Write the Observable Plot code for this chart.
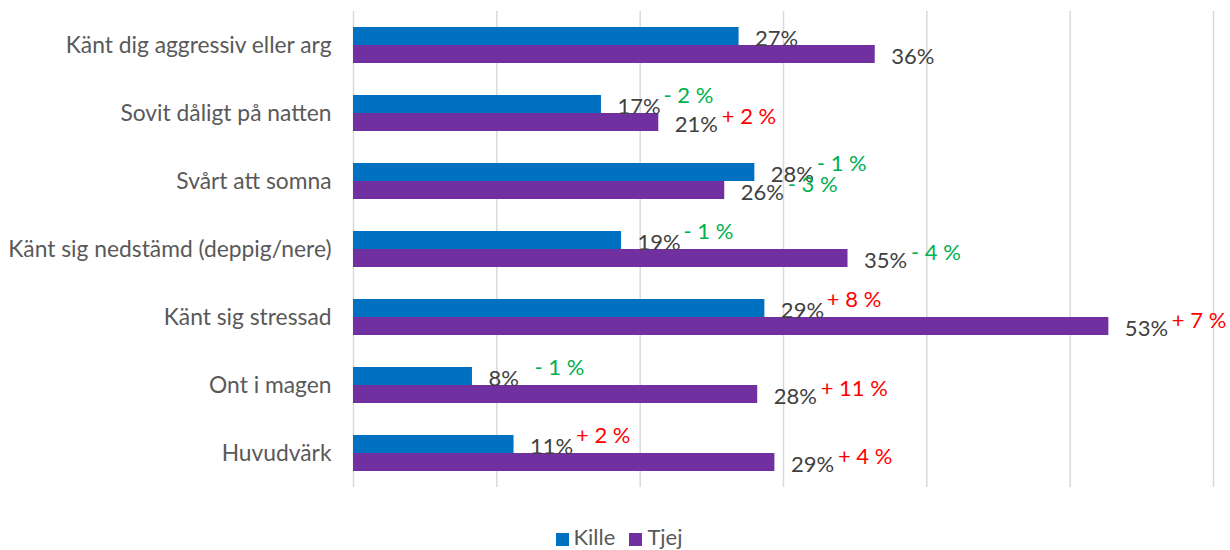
<!DOCTYPE html>
<html>
<head>
<meta charset="utf-8">
<script src="https://cdn.jsdelivr.net/npm/d3@7"></script>
<script src="https://cdn.jsdelivr.net/npm/@observablehq/plot@0.6"></script>
<style>
  html, body { margin: 0; padding: 0; background: #fff; overflow: hidden; }
  #chart svg { display: block; }
  #legend { font-family: Lato, sans-serif; font-size: 22px; color: #595959; text-align: center; height: 26px; line-height: 26px; padding-top: 19px; padding-left: 22px; }
  #legend span.sw { display: inline-block; width: 13px; height: 13px; margin-right: 5px; vertical-align: -1px; }
  #legend span.it { margin-right: 14px; }
</style>
</head>
<body>
<div id="chart"></div>
<div id="legend"></div>
<script>
const categories = [
  "Känt dig aggressiv eller arg",
  "Sovit dåligt på natten",
  "Svårt att somna",
  "Känt sig nedstämd (deppig/nere)",
  "Känt sig stressad",
  "Ont i magen",
  "Huvudvärk"
];
const kille = [26.9, 17.3, 28.0, 18.7, 28.7, 8.3, 11.2];
const tjej  = [36.4, 21.3, 25.9, 34.5, 52.7, 28.2, 29.4];
const killeLabels = ["27%", "17%", "28%", "19%", "29%", "8%", "11%"];
const tjejLabels  = ["36%", "21%", "26%", "35%", "53%", "28%", "29%"];
const killeChange = [null, -2, -1, -1, 8, -1, 2];
const tjejChange  = [null, 2, -3, -4, 7, 11, 4];
const seriesNames = ["Kille", "Tjej"];
const seriesColors = ["#0070C0", "#7030A0"];
const gridTicks = [0, 10, 20, 30, 40, 50, 60];

const rows = categories.map((c, i) => ({
  cat: c, kille: kille[i], tjej: tjej[i],
  kl: killeLabels[i], tl: tjejLabels[i],
  kc: killeChange[i], tc: tjejChange[i]
}));
const fmt = v => (v > 0 ? "+ " : "- ") + Math.abs(v) + " %";
const col = v => v > 0 ? "#FF0000" : "#00B050";
const kRows = rows.filter(d => d.kc != null);
const tRows = rows.filter(d => d.tc != null);

const font = "Lato, sans-serif";
const fs = 22;

const chart = Plot.plot({
  width: 1230,
  height: 505,
  marginLeft: 353,
  marginRight: 17,
  marginTop: 11,
  marginBottom: 18,
  style: { fontFamily: font, background: "#fff", overflow: "visible" },
  x: { domain: [0, 60], axis: null },
  y: { domain: categories, padding: 0, label: null },
  marks: [
    Plot.ruleX(gridTicks, { stroke: "#D9D9D9", strokeWidth: 1.5 }),
    Plot.axisY({ tickSize: 0, tickPadding: 22, fontSize: 22.8, fill: "#595959", label: null }),
    Plot.barX(rows, { x: "kille", y: "cat", fill: seriesColors[0], insetTop: 16, insetBottom: 34 }),
    Plot.barX(rows, { x: "tjej", y: "cat", fill: seriesColors[1], insetTop: 34, insetBottom: 16 }),
    Plot.text(rows, { x: "kille", y: "cat", text: "kl", dx: 16, dy: -7, textAnchor: "start", fill: "#404040", fontSize: fs, fontFamily: font }),
    Plot.text(rows, { x: "tjej", y: "cat", text: "tl", dx: 16, dy: 11, textAnchor: "start", fill: "#404040", fontSize: fs, fontFamily: font }),
    Plot.text(kRows, { x: "kille", y: "cat", text: d => fmt(d.kc), fill: d => col(d.kc), dx: 62, dy: -18, textAnchor: "start", fontSize: fs, fontFamily: font }),
    Plot.text(tRows, { x: "tjej", y: "cat", text: d => fmt(d.tc), fill: d => col(d.tc), dx: 63, dy: 3, textAnchor: "start", fontSize: fs, fontFamily: font })
  ]
});
document.getElementById("chart").appendChild(chart);

const legend = document.getElementById("legend");
seriesNames.forEach((n, i) => {
  const sw = document.createElement("span");
  sw.className = "sw";
  sw.style.background = seriesColors[i];
  const t = document.createElement("span");
  t.className = "it";
  t.textContent = n;
  legend.appendChild(sw);
  legend.appendChild(t);
});
</script>
</body>
</html>
